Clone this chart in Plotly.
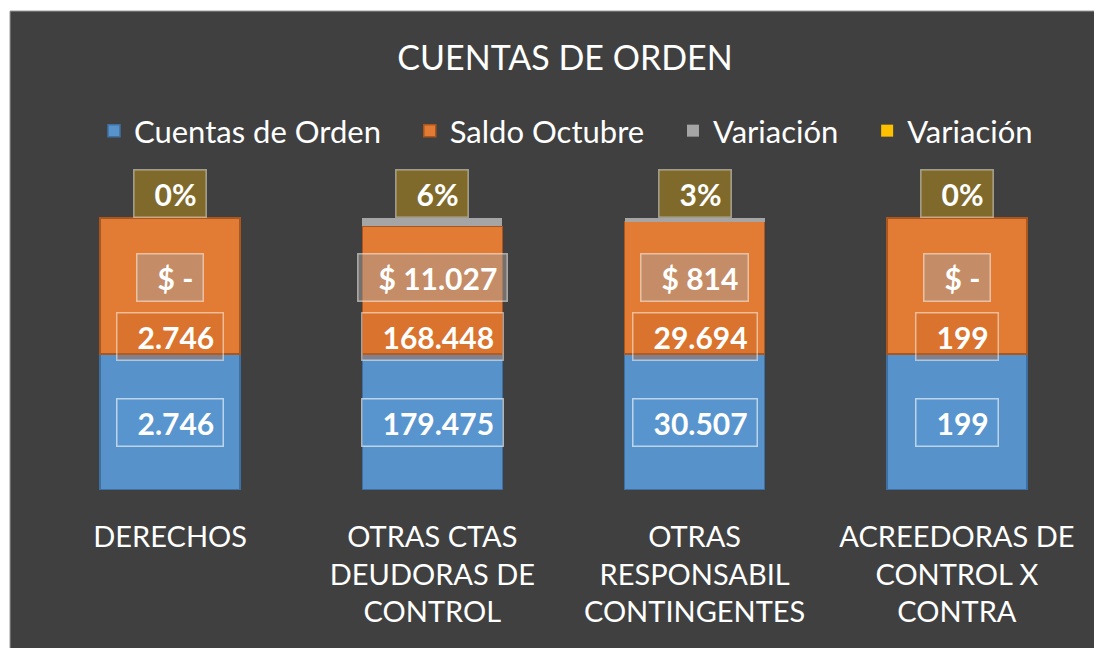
import plotly.graph_objects as go

categories = ["DERECHOS", "OTRAS CTAS DEUDORAS DE CONTROL",
              "OTRAS RESPONSABIL CONTINGENTES", "ACREEDORAS DE CONTROL X CONTRA"]
tick_labels = ["DERECHOS", "OTRAS CTAS<br>DEUDORAS DE<br>CONTROL",
               "OTRAS<br>RESPONSABIL<br>CONTINGENTES", "ACREEDORAS DE<br>CONTROL X<br>CONTRA"]
cuentas_orden = [2746, 179475, 30507, 199]
saldo_octubre = [2746, 168448, 29694, 199]
variacion_valor = [0, 11027, 814, 0]
variacion_pct = [0.00, 0.06, 0.03, 0.00]

FONT = "Lato"
BLUE, ORANGE, GRAY, GOLD = "#5792cb", "#e27b33", "#a5a5a5", "#ffc000"
BG = "#404040"
GAP = "\u00a0\u00a0\u00a0"

def miles(v):
    return f"{v:,}".replace(",", ".")

def pesos(v):
    return "$ -" if v == 0 else "$ " + miles(v)

fig = go.Figure()
fig.add_bar(name="Cuentas de Orden" + GAP, x=categories, y=cuentas_orden,
            marker=dict(color=BLUE, line=dict(color="#3f70a3", width=1.5)))
fig.add_bar(name="Saldo Octubre" + GAP, x=categories, y=saldo_octubre,
            marker=dict(color=ORANGE, line=dict(color="#a9571f", width=1.5)))
fig.add_bar(name="Variación" + GAP, x=categories, y=variacion_valor,
            marker=dict(color=GRAY, line=dict(color=GRAY, width=0)))
fig.add_bar(name="Variación", x=categories, y=variacion_pct,
            marker=dict(color=GOLD, line=dict(color="#bc8c00", width=0)))

# label levels (percent of stack)
LV_ORANGE, LV_GRAY, LV_GOLD = 56.3, 78.3, 109.0
annotations = []
lab_font = dict(family=FONT, size=30, color="white")
for i, c in enumerate(categories):
    total = cuentas_orden[i] + saldo_octubre[i] + variacion_valor[i] + variacion_pct[i]
    blue_mid = cuentas_orden[i] / total * 100 / 2
    specs = [
        (blue_mid, miles(cuentas_orden[i]), "rgba(91,155,213,0.35)", "rgba(255,255,255,0.6)"),
        (LV_ORANGE, miles(saldo_octubre[i]), "rgba(200,100,35,0.35)", "rgba(255,255,255,0.5)"),
        (LV_GRAY, pesos(variacion_valor[i]), "rgba(165,160,155,0.5)", "rgba(255,255,255,0.5)"),
        (LV_GOLD, f"{variacion_pct[i]*100:.0f}%", "rgba(255,192,0,0.33)", "rgba(255,255,255,0.45)"),
    ]
    for y, txt, bg, bc in specs:
        annotations.append(dict(x=c, y=y, xref="x", yref="y",
                                text="<b>\u2002" + txt + "\u2009</b>",
                                showarrow=False, font=lab_font, bgcolor=bg,
                                bordercolor=bc, borderwidth=1.5, borderpad=5,
                                xanchor="center", yanchor="middle"))

# page has an 8px body margin: figure coords = screen coords - 8
OFF = 8
W, H = 1102 - OFF, 648 - OFF
L, R = 39 - OFF, W - (1088 - OFF)
B = H - (490 - OFF)
T = 12
ph100 = 272
pw, ph = W - L - R, H - T - B
YMAX = ph / ph100 * 100

def px_x(p):
    return (p - OFF - L) / pw

def px_y(p):
    return (H - B - (p - OFF)) / ph

shapes = [
    dict(type="rect", xref="paper", yref="paper", x0=px_x(0), x1=px_x(10), y0=px_y(H + 20), y1=px_y(0),
         fillcolor="white", line=dict(width=0), layer="below"),
    dict(type="rect", xref="paper", yref="paper", x0=px_x(0), x1=px_x(W + 20), y0=px_y(11), y1=px_y(0),
         fillcolor="white", line=dict(width=0), layer="below"),
    dict(type="line", xref="paper", yref="paper", x0=px_x(10), x1=px_x(W + 20), y0=px_y(11), y1=px_y(11),
         line=dict(color="#9a9a9a", width=1)),
    dict(type="line", xref="paper", yref="paper", x0=px_x(10), x1=px_x(10), y0=px_y(11), y1=px_y(H + 20),
         line=dict(color="#9a9a9a", width=1)),
]

fig.update_layout(
    width=W, height=H,
    barmode="stack", barnorm="percent", bargap=0.466,
    paper_bgcolor=BG, plot_bgcolor=BG,
    margin=dict(l=L, r=R, t=T, b=B, pad=0),
    title=dict(text="CUENTAS DE ORDEN", x=(565 - OFF) / W, xanchor="center", xref="container",
               y=1 - (58 - OFF) / H, yanchor="middle", yref="container",
               font=dict(family=FONT, size=34, color="white")),
    legend=dict(orientation="h", x=px_x(566), xanchor="center", xref="paper",
                y=px_y(131), yanchor="middle", yref="paper",
                font=dict(family=FONT, size=31, color="white"),
                bgcolor="rgba(0,0,0,0)", traceorder="normal"),
    showlegend=True,
    xaxis=dict(tickmode="array", tickvals=categories, ticktext=tick_labels,
               tickfont=dict(family=FONT, size=29, color="white"),
               showgrid=False, zeroline=False, showline=False, ticks="",
               ticklabelstandoff=27),
    yaxis=dict(range=[0, YMAX], visible=False, showgrid=False, zeroline=False),
    annotations=annotations,
    shapes=shapes,
    font=dict(family=FONT, color="white"),
)

fig.write_html("out.html")
